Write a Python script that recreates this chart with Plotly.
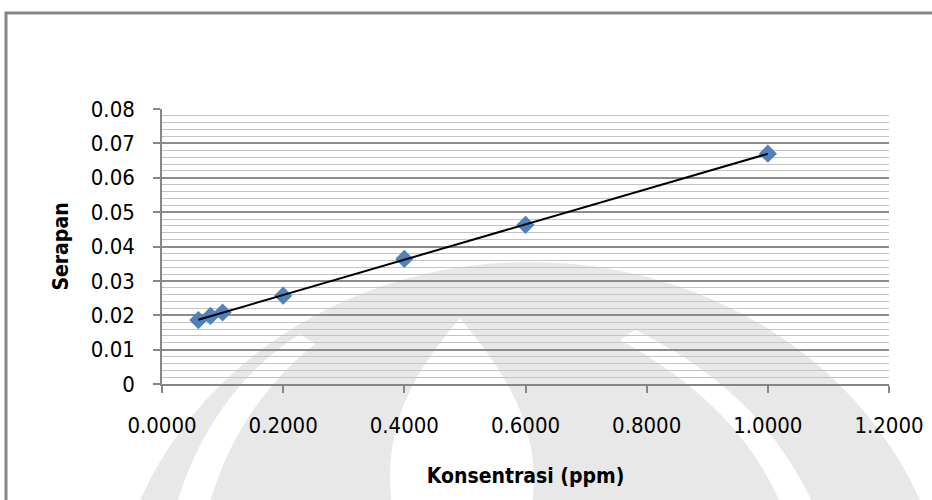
import numpy as np
import plotly.graph_objects as go

# Data
konsentrasi = [0.06, 0.08, 0.10, 0.20, 0.40, 0.60, 1.00]
serapan = [0.0186, 0.0198, 0.0208, 0.0257, 0.0364, 0.0463, 0.0670]

y_tickvals = [0, 0.01, 0.02, 0.03, 0.04, 0.05, 0.06, 0.07, 0.08]
y_ticktext = ["0", "0.01", "0.02", "0.03", "0.04", "0.05", "0.06", "0.07", "0.08"]
x_tickvals = [0, 0.2, 0.4, 0.6, 0.8, 1.0, 1.2]
x_ticktext = ["0.0000", "0.2000", "0.4000", "0.6000", "0.8000", "1.0000", "1.2000"]

x_title = "Konsentrasi (ppm)"
y_title = "Serapan"

# linear trendline computed from the data
slope, intercept = np.polyfit(konsentrasi, serapan, 1)
trend_x = [min(konsentrasi), max(konsentrasi)]
trend_y = [slope * v + intercept for v in trend_x]

narrow = "DejaVu Sans Condensed, Liberation Sans Narrow, sans-serif"

# --- page geometry helpers (decorative background only) ---
L, T, W, H = 162, 109, 727, 275


def px(x, y):
    return (x - L) / W, (T + H - y) / H


def path(cmds):
    out = []
    for c in cmds:
        if isinstance(c, str):
            out.append(c)
        else:
            a, b = px(*c)
            out.append(f"{a:.4f},{b:.4f}")
    return " ".join(out)


WM = "#e8e8e8"
shapes = []
# faint watermark (university emblem behind the scan)
x0, y1 = px(110, 262)
x1, y0 = px(950, 1020)
shapes.append(dict(type="circle", xref="paper", yref="paper", x0=x0, x1=x1, y0=y0, y1=y1,
                   fillcolor=WM, line=dict(width=0), layer="below"))
shapes.append(dict(type="path", xref="paper", yref="paper", layer="below",
                   path=path(["M", (460, 318), "C", (417, 370), (377, 425), (394, 520),
                              "L", (530, 520), "C", (547, 430), (504, 372), (460, 318), "Z"]),
                   fillcolor="white", line=dict(width=0)))
shapes.append(dict(type="path", xref="paper", yref="paper", layer="below",
                   path=path(["M", (300, 334), "Q", (205, 395), (172, 520),
                              "L", (205, 520), "Q", (232, 410), (315, 344), "Z"]),
                   fillcolor="white", line=dict(width=0)))
shapes.append(dict(type="path", xref="paper", yref="paper", layer="below",
                   path=path(["M", (635, 330), "Q", (770, 395), (820, 520),
                              "L", (787, 520), "Q", (748, 410), (620, 340), "Z"]),
                   fillcolor="white", line=dict(width=0)))
# chart area border
bx0, by1 = px(6, 13)
shapes.append(dict(type="rect", xref="paper", yref="paper",
                   x0=bx0, x1=1.2, y0=-0.6, y1=by1,
                   line=dict(color="#868686", width=3), fillcolor="rgba(0,0,0,0)", layer="below"))

fig = go.Figure()
fig.add_trace(go.Scatter(
    x=konsentrasi, y=serapan, mode="markers",
    marker=dict(symbol="diamond", size=14, color="#4f81bd", line=dict(width=0)),
    showlegend=False, hoverinfo="x+y"))
fig.add_trace(go.Scatter(
    x=trend_x, y=trend_y, mode="lines",
    line=dict(color="black", width=2),
    showlegend=False, hoverinfo="skip"))

fig.update_layout(
    width=932, height=500,
    margin=dict(l=L, r=932 - L - W, t=T, b=500 - T - H, autoexpand=False),
    paper_bgcolor="white", plot_bgcolor="rgba(0,0,0,0)",
    xaxis=dict(
        range=[0, 1.2], tickvals=x_tickvals, ticktext=x_ticktext,
        showgrid=False, zeroline=False, automargin=False,
        showline=True, linecolor="#868686", linewidth=1.5,
        ticks="outside", ticklen=7, tickcolor="#868686", tickwidth=1.5,
        tickfont=dict(family=narrow, size=22, color="black"),
        ticklabelstandoff=14,
        title=dict(text=x_title, font=dict(family=narrow, size=21, color="black", weight="bold"),
                   standoff=31),
    ),
    yaxis=dict(
        range=[0, 0.08], tickvals=y_tickvals, ticktext=y_ticktext,
        showgrid=True, gridcolor="#8c8c8c", gridwidth=1.5,
        zeroline=False, automargin=False,
        showline=True, linecolor="#868686", linewidth=1.5,
        ticks="outside", ticklen=7, tickcolor="#868686", tickwidth=1.5,
        tickfont=dict(family=narrow, size=22, color="black"),
        ticklabelstandoff=14,
        minor=dict(dtick=0.002, showgrid=True, gridcolor="#c4c4c4", gridwidth=1, ticks=""),
        title=dict(text=y_title, font=dict(family=narrow, size=21, color="black", weight="bold"),
                   standoff=16),
    ),
    shapes=shapes,
)

fig.write_html("out.html", config={"displayModeBar": False},
               post_script="document.body.style.margin='0px';")
